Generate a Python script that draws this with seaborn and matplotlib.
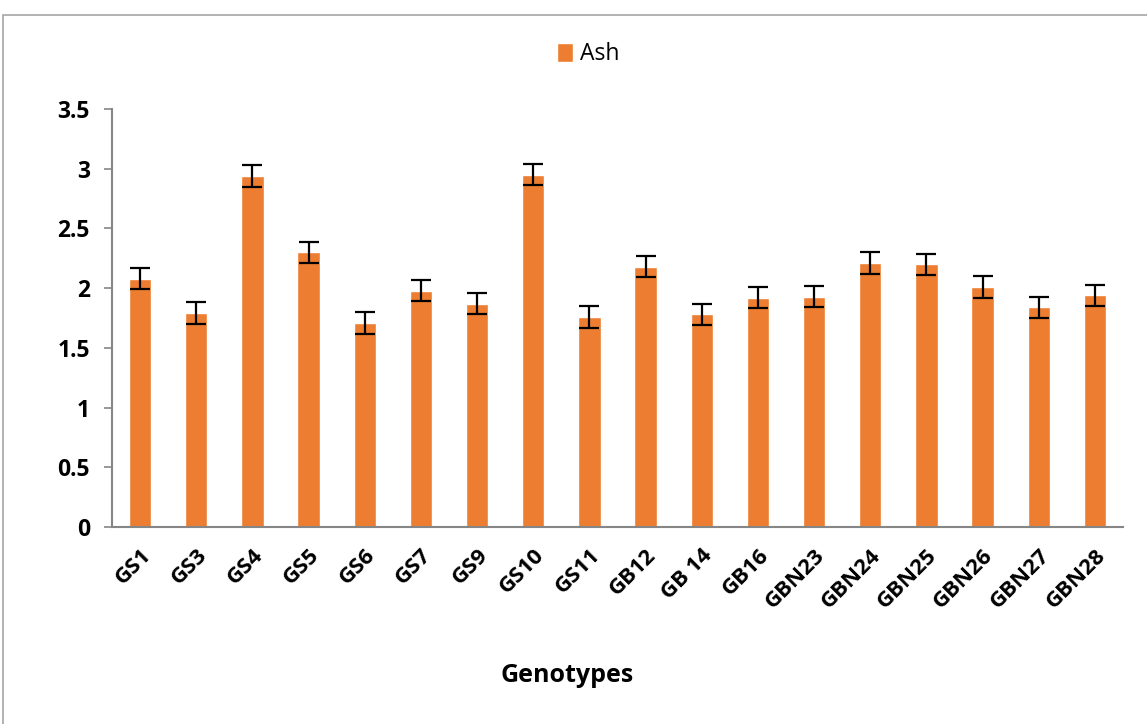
import seaborn as sns
from matplotlib import pyplot as plt
from matplotlib.patches import Patch, Rectangle
import pandas as pd

genotypes = ["GS1", "GS3", "GS4", "GS5", "GS6", "GS7", "GS9", "GS10", "GS11",
             "GB12", "GB 14", "GB16", "GBN23", "GBN24", "GBN25", "GBN26", "GBN27", "GBN28"]
ash = [2.08, 1.79, 2.94, 2.30, 1.71, 1.98, 1.87, 2.95, 1.76,
       2.18, 1.78, 1.92, 1.93, 2.21, 2.20, 2.01, 1.84, 1.94]
ash_err = [0.09, 0.09, 0.09, 0.09, 0.09, 0.09, 0.09, 0.09, 0.09,
           0.09, 0.09, 0.09, 0.09, 0.09, 0.09, 0.09, 0.09, 0.09]

bar_color = "#ED7D31"
axis_grey = "#868686"

sns.set_style("white", {"text.color": "black", "xtick.color": "black",
                        "ytick.color": "black"})
plt.rcParams['font.family'] = ['Open Sans', 'DejaVu Sans']

df = pd.DataFrame({"Genotype": genotypes, "Ash": ash})

fig = plt.figure(figsize=(11.47, 7.24), dpi=100)
ax = fig.add_axes([112 / 1147, 1 - 527 / 724, (1123 - 112) / 1147, (527 - 109) / 724])

sns.barplot(data=df, x="Genotype", y="Ash", color=bar_color, width=0.4,
            errorbar=None, saturation=1, ax=ax)
ax.errorbar(range(len(genotypes)), ash, yerr=ash_err, fmt="none",
            ecolor="black", elinewidth=1.6, capsize=7, capthick=1.6)

ax.set_ylim(0, 3.5)
ax.set_xlim(-0.5, len(genotypes) - 0.5)
ax.set_yticks([0, 0.5, 1, 1.5, 2, 2.5, 3, 3.5])
ax.set_yticklabels(["0", "0.5", "1", "1.5", "2", "2.5", "3", "3.5"],
                   fontsize=16.5, fontweight="bold")
ax.set_xticks(range(len(genotypes)))
ax.set_xticklabels(genotypes, fontsize=16, fontweight="bold", rotation=45,
                   ha="right", rotation_mode="anchor")
ax.set_xticks([i - 0.5 for i in range(len(genotypes) + 1)], minor=True)
ax.tick_params(axis="x", which="major", length=0, pad=13, labelcolor="black")
ax.tick_params(axis="x", which="minor", length=6, color=axis_grey, width=1.2)
ax.tick_params(axis="y", length=6, color=axis_grey, width=1.2, pad=10, left=True,
               labelcolor="black")
ax.set_xlabel("")
ax.set_ylabel("")

for side in ["top", "right"]:
    ax.spines[side].set_visible(False)
for side in ["left", "bottom"]:
    ax.spines[side].set_color(axis_grey)
    ax.spines[side].set_linewidth(1.5)

fig.text(567 / 1147, 1 - 676 / 724, "Genotypes", fontsize=18, fontweight="bold",
         ha="center", va="center", color="black")

fig.legend(handles=[Patch(facecolor=bar_color, label="Ash")], loc="center",
           bbox_to_anchor=(588 / 1147, 1 - 54 / 724), frameon=False, fontsize=16.5,
           handlelength=0.7, handleheight=0.9, handletextpad=0.3, labelcolor="black")

fig.patches.append(Rectangle((3 / 1147, -0.01), 1.0, (724 - 15) / 724 + 0.01,
                             transform=fig.transFigure, fill=False,
                             edgecolor="#a6a6a6", linewidth=1.2))

fig.savefig("out.png", dpi=100)
